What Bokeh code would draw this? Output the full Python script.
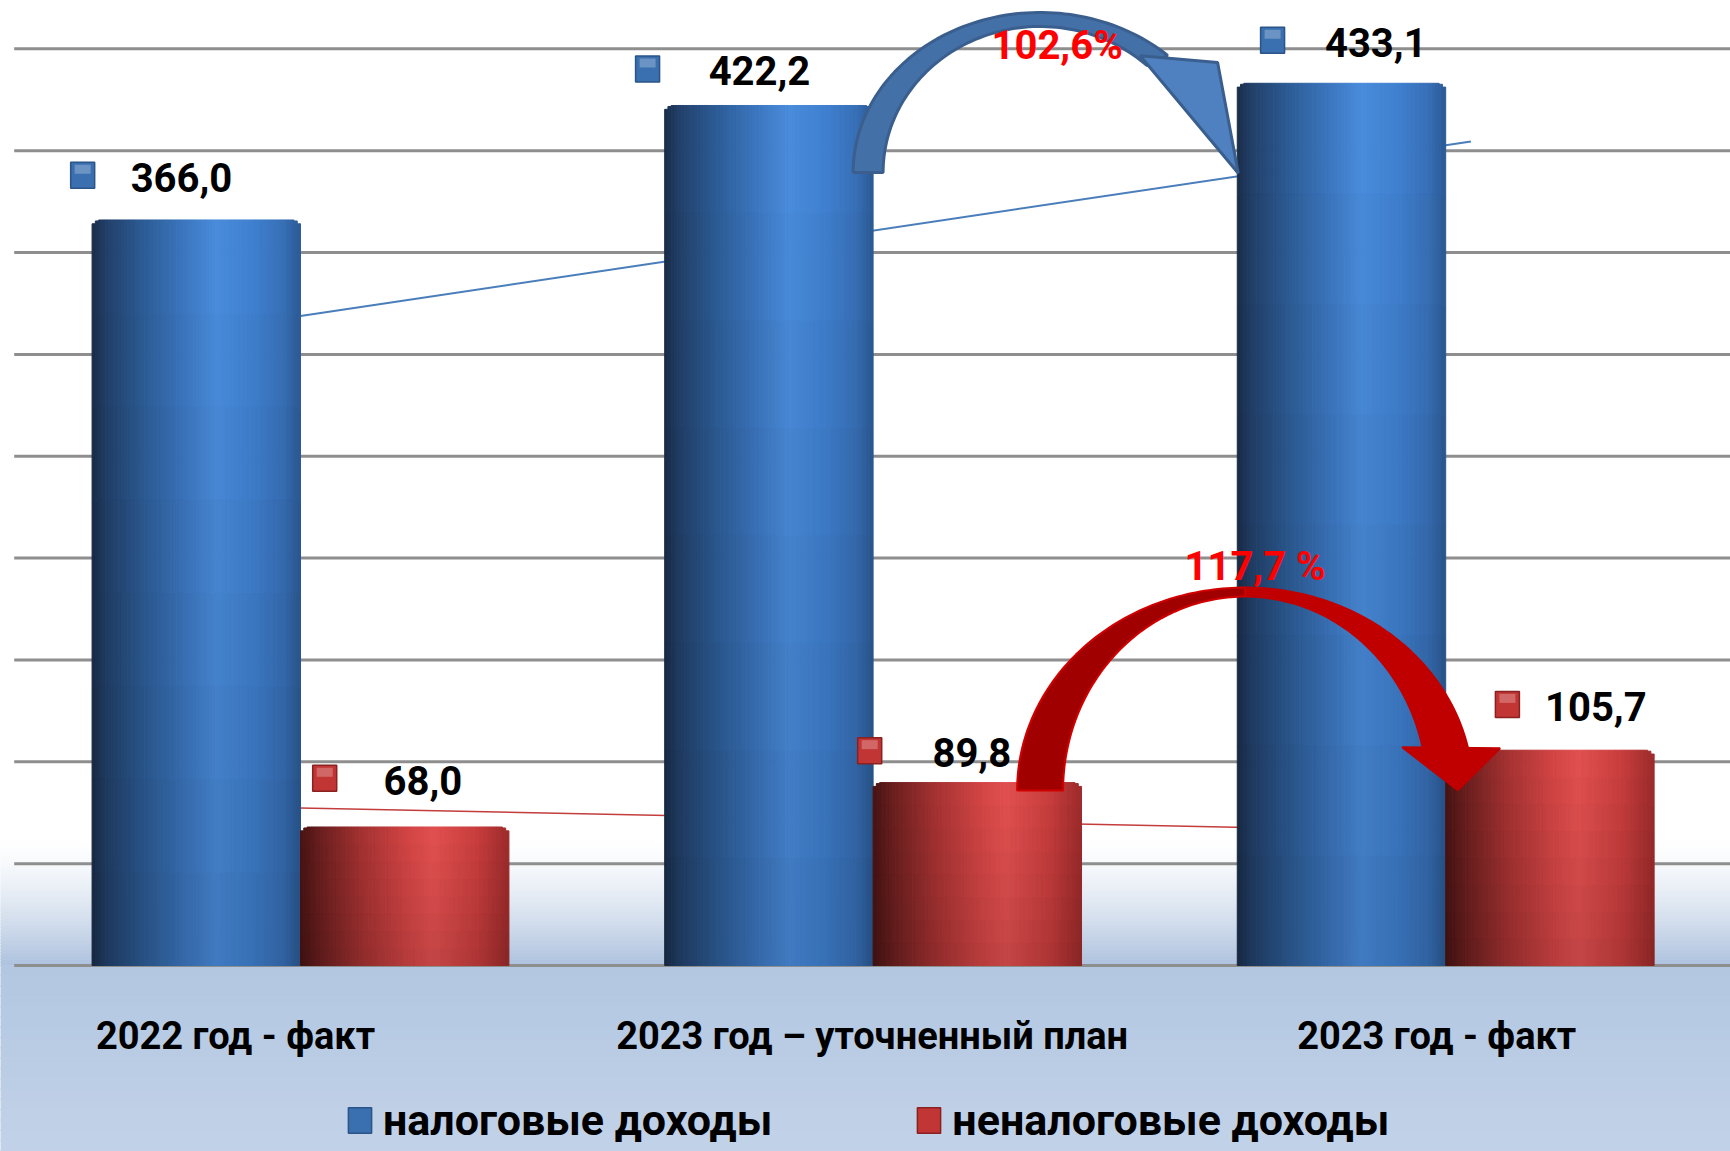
import numpy as np
from bokeh.plotting import figure
from bokeh.models import ColumnDataSource, Legend, LegendItem, Range1d
from bokeh.core.properties import value
from bokeh.embed import file_html
from bokeh.resources import INLINE

# ---------------- data ----------------
categories = ["2022 год - факт", "2023 год – уточненный план", "2023 год - факт"]
series_names = ["налоговые доходы", "неналоговые доходы"]
tax = [366.0, 422.2, 433.1]
nontax = [68.0, 89.8, 105.7]
grid_values = [0, 50, 100, 150, 200, 250, 300, 350, 400, 450]
trend_x = [0.0, 2.044]
tax_trend = [318.9, 404.5]
nontax_trend = [77.3, 65.5]

# ---------------- layout / style ----------------
W, H = 1730, 1151
M = 0
PX0, PXU = 300.0, 572.6      # page x of category 0 centre, px per category
PY0, PYU = 965.0, 2.037      # page y of value 0, px per unit
BW = 0.364                   # bar width in category units
FONT_NAME = "Roboto"
FONT = value(FONT_NAME)

def to_x(px):
    return (px - PX0) / PXU

def to_y(py):
    return (PY0 - py) / PYU

def px_x(x):
    return PX0 + PXU * x

def px_y(v):
    return PY0 - PYU * v

def h2r(h):
    return np.array([int(h[i:i + 2], 16) for i in (1, 3, 5)], dtype=float)

def r2h(c):
    c = np.clip(np.round(c), 0, 255).astype(int)
    return "#%02x%02x%02x" % tuple(c)

def interp(stops, f):
    for (f0, c0), (f1, c1) in zip(stops[:-1], stops[1:]):
        if f0 <= f <= f1:
            t = (f - f0) / (f1 - f0) if f1 > f0 else 0
            return h2r(c0) * (1 - t) + h2r(c1) * t
    return h2r(stops[-1][1])

blue_stops = [(0.0, "#1a2d48"), (0.07, "#22406a"), (0.25, "#2d5d97"), (0.45, "#3d78c2"),
              (0.60, "#4a8ddd"), (0.78, "#3f80d0"), (0.92, "#3870b8"), (1.0, "#2c5b96")]
red_stops = [(0.0, "#471313"), (0.10, "#6c1f1f"), (0.30, "#a63232"), (0.52, "#d44545"),
             (0.64, "#e35050"), (0.85, "#c93d3d"), (1.0, "#9e2b2b")]

p = figure(width=W, height=H,
           x_range=Range1d(to_x(M), to_x(M + W)),
           y_range=Range1d(to_y(M + H), to_y(M)),
           output_backend="svg", toolbar_location=None, title=None,
           x_axis_location=None, y_axis_location=None,
           min_border_left=0, min_border_right=0, min_border_top=0, min_border_bottom=0,
           outline_line_color=None, background_fill_color="white", border_fill_color="white")
p.xgrid.visible = False
p.ygrid.visible = False

# ---------------- background gradient ----------------
xl, xr = to_x(-10), to_x(1760)
bg = dict(left=[], right=[], top=[], bottom=[], color=[])
gtop = to_y(838)
n = 40
for k in range(n):
    y0 = gtop * k / n
    y1 = gtop * (k + 1) / n
    t = 1 - (k + 0.5) / n
    c = h2r("#ffffff") * (1 - t ** 1.4) + h2r("#adc2de") * t ** 1.4
    bg["left"].append(xl); bg["right"].append(xr)
    bg["bottom"].append(y0); bg["top"].append(y1); bg["color"].append(r2h(c))
ybot = to_y(M + H + 20)
n = 20
for k in range(n):
    y1 = ybot * k / n
    y0 = ybot * (k + 1) / n
    t = (k + 0.5) / n
    c = h2r("#b3c7e1") * (1 - t) + h2r("#c3d3e9") * t
    bg["left"].append(xl); bg["right"].append(xr)
    bg["bottom"].append(y0); bg["top"].append(y1); bg["color"].append(r2h(c))
p.quad(left="left", right="right", top="top", bottom="bottom", fill_color="color",
       line_color="color", line_width=1, source=ColumnDataSource(bg))

# ---------------- grid lines ----------------
n_cat = len(categories)
p.segment(x0=[-0.5] * len(grid_values), x1=[n_cat - 0.5 + 0.05] * len(grid_values),
          y0=grid_values, y1=grid_values, line_color="#8e8e8e", line_width=3)

# ---------------- trend lines ----------------
p.line(trend_x, tax_trend, line_color="#4a7ebb", line_width=2)
p.line(trend_x, nontax_trend, line_color="#c43c3c", line_width=1.5)

# ---------------- cylinder bars ----------------
def cylinders(values, offset, stops, ns=64, nv=8, r=9.0):
    d = dict(left=[], right=[], top=[], bottom=[], color=[])
    wpx = BW * PXU
    for i, v in enumerate(values):
        left = i + offset
        for j in range(ns):
            f = (j + 0.5) / ns
            base = interp(stops, f)
            dist = min(j + 0.5, ns - j - 0.5) * wpx / ns
            drop = r - np.sqrt(r * r - (r - dist) ** 2) if dist < r else 0.0
            top = v - drop / PYU
            for k in range(nv):
                shade = 0.86 + 0.14 * (k + 0.5) / nv
                d["left"].append(left + BW * j / ns)
                d["right"].append(left + BW * (j + 1) / ns)
                d["bottom"].append(top * k / nv)
                d["top"].append(top * (k + 1) / nv)
                d["color"].append(r2h(base * shade))
    return d

p.quad(left="left", right="right", top="top", bottom="bottom", fill_color="color",
       line_color="color", line_width=1, source=ColumnDataSource(cylinders(tax, -BW, blue_stops)))
p.quad(left="left", right="right", top="top", bottom="bottom", fill_color="color",
       line_color="color", line_width=1, source=ColumnDataSource(cylinders(nontax, 0.0, red_stops)))

# ---------------- curved arrows ----------------
def ell(cx, cy, rx, ry, a0, a1, n=80):
    a = np.radians(np.linspace(a0, a1, n))
    return list(cx + rx * np.cos(a)), list(cy - ry * np.sin(a))

def patch_px(xs, ys, **kw):
    p.patch([to_x(x) for x in xs], [to_y(y) for y in ys], **kw)

# blue arrow: plan -> fact (tax)
b_left = px_x(1.0) - 20
b_base = px_y(tax[1]) + 67
b_cx = b_left + 187
bo = (b_cx, b_base, 187, 160)
bi = (b_cx, b_base, 157, 146)
b_end = 47
ox, oy = ell(*bo, 180, b_end)
ix, iy = ell(*bi, b_end, 180)
patch_px(ox + ix, oy + iy, fill_color="#4470a8", line_color="#3a5f8e", line_width=3)
tip = (px_x(2 - BW) + 1, px_y(tax[2]) + 90)
patch_px([ix[0] - 7, ox[-1] + 50, tip[0]], [iy[0] - 10, oy[-1] + 7, tip[1]],
         fill_color="#4f80bf", line_color="#3a5f8e", line_width=3)

# red arrow: plan -> fact (non-tax)
r_left = px_x(1.0) + 144
r_base = px_y(nontax[1]) + 8
r_cx = r_left + 228
ro = (r_cx, r_base, 228, 203)
ri = (r_cx, r_base, 182, 194)
r_end = 12
ox1, oy1 = ell(*ro, 180, 90)
ix1, iy1 = ell(*ri, 90, 180)
ox2, oy2 = ell(*ro, 90, r_end)
ix2, iy2 = ell(*ri, r_end, 90)
patch_px(ox2 + ix2, oy2 + iy2, fill_color="#c00000", line_color="#c00000", line_width=2)
patch_px(ox1 + ix1, oy1 + iy1, fill_color="#a00000", line_color="#d00000", line_width=2)
rtip = (px_x(2.0) + 12, px_y(nontax[2]) + 40)
patch_px([ix2[0] - 21, ox2[-1] + 32, rtip[0]], [iy2[0] - 3, oy2[-1], rtip[1]],
         fill_color="#c00000", line_color="#c00000", line_width=2)

# ---------------- data labels ----------------
blue_marker_dx = [-9.4, -17.1, 35.3]
blue_marker_dy = [-44.6, -36.6, -43.1]
blue_text_dx = [98.8, 111.9, 103.2]
red_marker_dx = [24.2, -3.4, 61.7]
red_marker_dy = [-48.7, -31.9, -45.8]
red_text_dx = [98.2, 102.1, 88.4]

def fmt(v):
    return f"{v:.1f}".replace(".", ",")

def labels(values, offset, mdx, mdy, tdx, fill, line):
    mx = [to_x(px_x(i + offset) + mdx[i]) for i in range(len(values))]
    my = [values[i] - mdy[i] / PYU for i in range(len(values))]
    rend = p.rect(x=mx, y=my, width=24, height=26, width_units="screen", height_units="screen",
                  fill_color=fill, line_color=line, line_width=1.5)
    p.rect(x=mx, y=[y + 6 / PYU for y in my], width=16, height=9, width_units="screen",
           height_units="screen", fill_color="white", fill_alpha=0.25, line_color=None)
    p.text(x=mx, y=my, text=[fmt(v) for v in values], x_offset=tdx, y_offset=[2] * len(values),
           text_font=FONT, text_font_style="bold", text_font_size="40px",
           text_align="center", text_baseline="middle", text_color="black")
    return rend

blue_key = labels(tax, -BW, blue_marker_dx, blue_marker_dy, blue_text_dx, "#3a6fb0", "#2b5487")
red_key = labels(nontax, 0.0, red_marker_dx, red_marker_dy, red_text_dx, "#c23535", "#8a2020")

# percentage labels
pct_tax = tax[2] / tax[1] * 100
pct_nontax = nontax[2] / nontax[1] * 100
p.text(x=[to_x(b_cx + 17), to_x(r_cx + 10)], y=[to_y(b_base - 127), to_y(r_base - 224)],
       text=[fmt(pct_tax) + "%", fmt(pct_nontax) + " %"],
       text_font=FONT, text_font_style="bold", text_font_size="40px",
       text_align="center", text_baseline="middle", text_color="#ff0000")

# category labels
cat_dx = [-65, -1, -9]
p.text(x=list(range(n_cat)), y=[0] * n_cat, text=categories, x_offset=cat_dx, y_offset=[70] * n_cat,
       text_font=FONT, text_font_style="bold", text_font_size="38px",
       text_align="center", text_baseline="middle", text_color="black")

# ---------------- legend ----------------
legend = Legend(items=[LegendItem(label=series_names[0], renderers=[blue_key]),
                       LegendItem(label=series_names[1], renderers=[red_key])],
                orientation="horizontal", location=(345, 6),
                glyph_width=29, glyph_height=32, label_standoff=9, spacing=142,
                label_text_font=FONT_NAME, label_text_font_size="43px", label_text_font_style="bold",
                label_text_color="black", border_line_color=None, background_fill_alpha=0,
                padding=0, margin=0)
p.add_layout(legend)

open("out.html", "w").write(file_html(p, INLINE))
